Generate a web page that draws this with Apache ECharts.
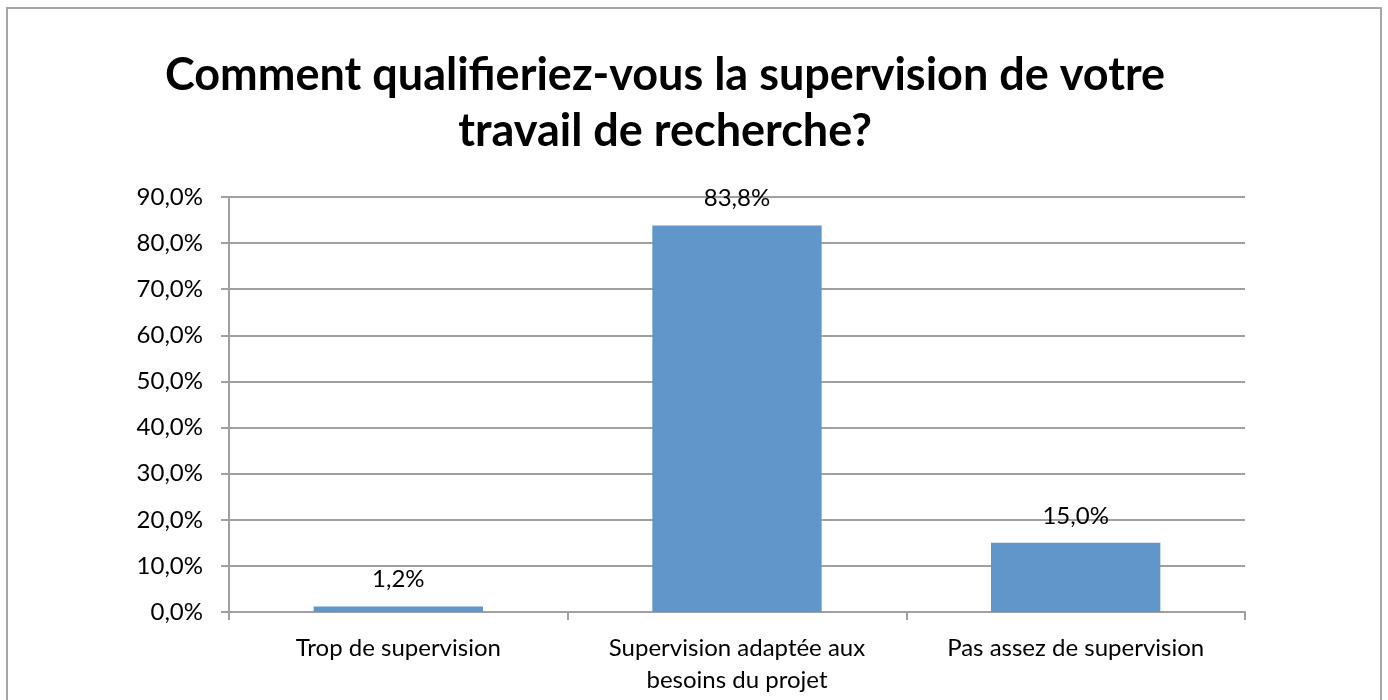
<!DOCTYPE html>
<html>
<head>
<meta charset="utf-8">
<script src="https://cdn.jsdelivr.net/npm/echarts@6/dist/echarts.min.js"></script>
<style>
  html, body { margin: 0; padding: 0; background: #fff; }
  #chart { width: 1388px; height: 700px; }
</style>
</head>
<body>
<div id="chart"></div>
<script>
  // données
  const categories = ['Trop de supervision', 'Supervision adaptée aux\nbesoins du projet', 'Pas assez de supervision'];
  const values = [1.2, 83.8, 15.0];
  const titleText = 'Comment qualifieriez-vous la supervision de votre\ntravail de recherche?';

  const fmt = v => v.toFixed(1).replace('.', ',') + '%';
  const font = 'Lato';

  let myChart = echarts.init(document.getElementById('chart'));
  let option = {
    backgroundColor: '#fff',
    animation: false,
    graphic: [{
      type: 'rect',
      shape: { x: 7, y: 8, width: 1374, height: 760 },
      style: { fill: 'none', stroke: '#a6a6a6', lineWidth: 2 },
      silent: true
    }],
    title: {
      text: titleText,
      left: 660,
      top: 42,
      textAlign: 'center',
      textStyle: {
        fontFamily: font,
        fontWeight: 'bold',
        fontSize: 45,
        lineHeight: 56,
        color: '#000'
      }
    },
    grid: {
      left: 229,
      right: 143,
      top: 197,
      bottom: 88,
      containLabel: false
    },
    xAxis: {
      type: 'category',
      data: categories,
      axisLine: { lineStyle: { color: '#a0a0a0', width: 2 } },
      axisTick: { show: true, length: 8, lineStyle: { color: '#a0a0a0', width: 2 } },
      axisLabel: {
        fontFamily: font,
        fontSize: 24,
        color: '#000',
        margin: 20,
        lineHeight: 32
      }
    },
    yAxis: {
      type: 'value',
      min: 0,
      max: 90,
      interval: 10,
      axisLine: { show: true, lineStyle: { color: '#a0a0a0', width: 2 } },
      axisTick: { show: true, length: 8, lineStyle: { color: '#a0a0a0', width: 2 } },
      splitLine: { show: true, lineStyle: { color: '#a0a0a0', width: 2 } },
      axisLabel: {
        fontFamily: font,
        fontSize: 24,
        color: '#000',
        margin: 26,
        formatter: v => fmt(v)
      }
    },
    series: [{
      type: 'bar',
      data: values,
      barWidth: '50%',
      itemStyle: { color: '#6096c9' },
      label: {
        show: true,
        position: 'top',
        distance: 15,
        fontFamily: font,
        fontSize: 24,
        color: '#000',
        formatter: p => fmt(p.value)
      }
    }]
  };

  myChart.setOption(option);
</script>
</body>
</html>
